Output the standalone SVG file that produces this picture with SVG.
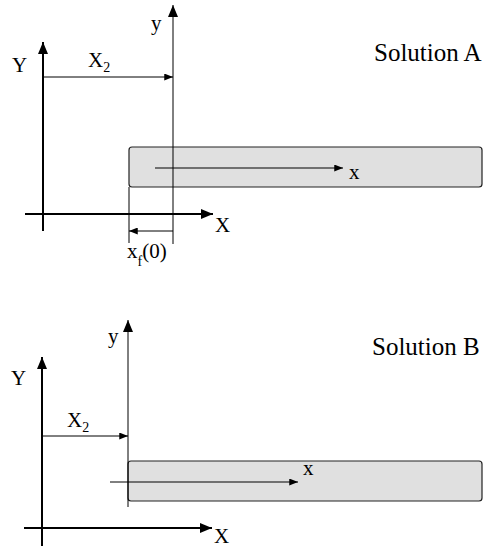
<svg xmlns="http://www.w3.org/2000/svg" width="483" height="548" viewBox="0 0 483 548">
<defs>
<marker id="ah" viewBox="0 0 12 10" refX="12" refY="5" markerWidth="12" markerHeight="10" markerUnits="userSpaceOnUse" orient="auto"><path d="M0,0 L12,5 L0,10 Z" fill="#000"/></marker>
<marker id="as" viewBox="0 0 10 8" refX="10" refY="4" markerWidth="9" markerHeight="7" markerUnits="userSpaceOnUse" orient="auto"><path d="M0,0 L10,4 L0,8 Z" fill="#000"/></marker>
</defs>
<style>
.lbl{font-size:21px}
.sub{font-size:14px}
.title{font-size:25px}
.axis{stroke:#000;stroke-width:2;fill:none}
.thin{stroke:#000;stroke-width:1;fill:none}
.bar{fill:#e0e0e0;stroke:#222;stroke-width:1.2}
</style>
<g id="panelA" font-family="'Liberation Serif', 'DejaVu Serif', serif" fill="#000">
<g id="barA"><rect class="bar" x="129" y="147" width="353" height="40" rx="3"/></g>
<g id="connectorsA">
<line class="axis" x1="43" y1="231" x2="43" y2="42" marker-end="url(#ah)"/>
<line class="axis" x1="25" y1="214" x2="213" y2="214" marker-end="url(#ah)"/>
<line class="thin" x1="173" y1="244" x2="173" y2="5" stroke-width="1.3" marker-end="url(#ah)"/>
<line class="thin" x1="43" y1="77" x2="173" y2="77" marker-end="url(#as)"/>
<line class="thin" x1="155" y1="168" x2="343" y2="168" marker-end="url(#as)"/>
<line class="thin" x1="129" y1="187" x2="129" y2="243"/>
<line class="thin" x1="173" y1="231" x2="129" y2="231" marker-end="url(#as)"/>
</g>
<text class="lbl" x="12" y="72">Y</text>
<text class="lbl" x="88" y="67">X<tspan class="sub" dy="5">2</tspan></text>
<text class="lbl" x="151" y="30">y</text>
<text class="lbl" x="215" y="232">X</text>
<text class="lbl" x="349" y="179">x</text>
<text class="lbl" x="127" y="258">x<tspan class="sub" dy="8">f</tspan><tspan dy="-8">(0)</tspan></text>
<text class="title" x="374" y="61">Solution A</text>
</g>
<g id="panelB" font-family="'Liberation Serif', 'DejaVu Serif', serif" fill="#000">
<g id="barB"><rect class="bar" x="128" y="461" width="354" height="40" rx="3"/></g>
<g id="connectorsB">
<line class="axis" x1="42" y1="546" x2="42" y2="357" marker-end="url(#ah)"/>
<line class="axis" x1="24" y1="528" x2="212" y2="528" marker-end="url(#ah)"/>
<line class="thin" x1="128" y1="507" x2="128" y2="320" stroke="#888" stroke-width="1.3" marker-end="url(#ah)"/>
<line class="thin" x1="42" y1="436" x2="128" y2="436" marker-end="url(#as)"/>
<line class="thin" x1="110" y1="482" x2="298" y2="482" marker-end="url(#as)"/>
</g>
<text class="lbl" x="11" y="385">Y</text>
<text class="lbl" x="67" y="427">X<tspan class="sub" dy="5">2</tspan></text>
<text class="lbl" x="108" y="343">y</text>
<text class="lbl" x="214" y="543">X</text>
<text class="lbl" x="303" y="475">x</text>
<text class="title" x="372" y="355">Solution B</text>
</g>
</svg>
